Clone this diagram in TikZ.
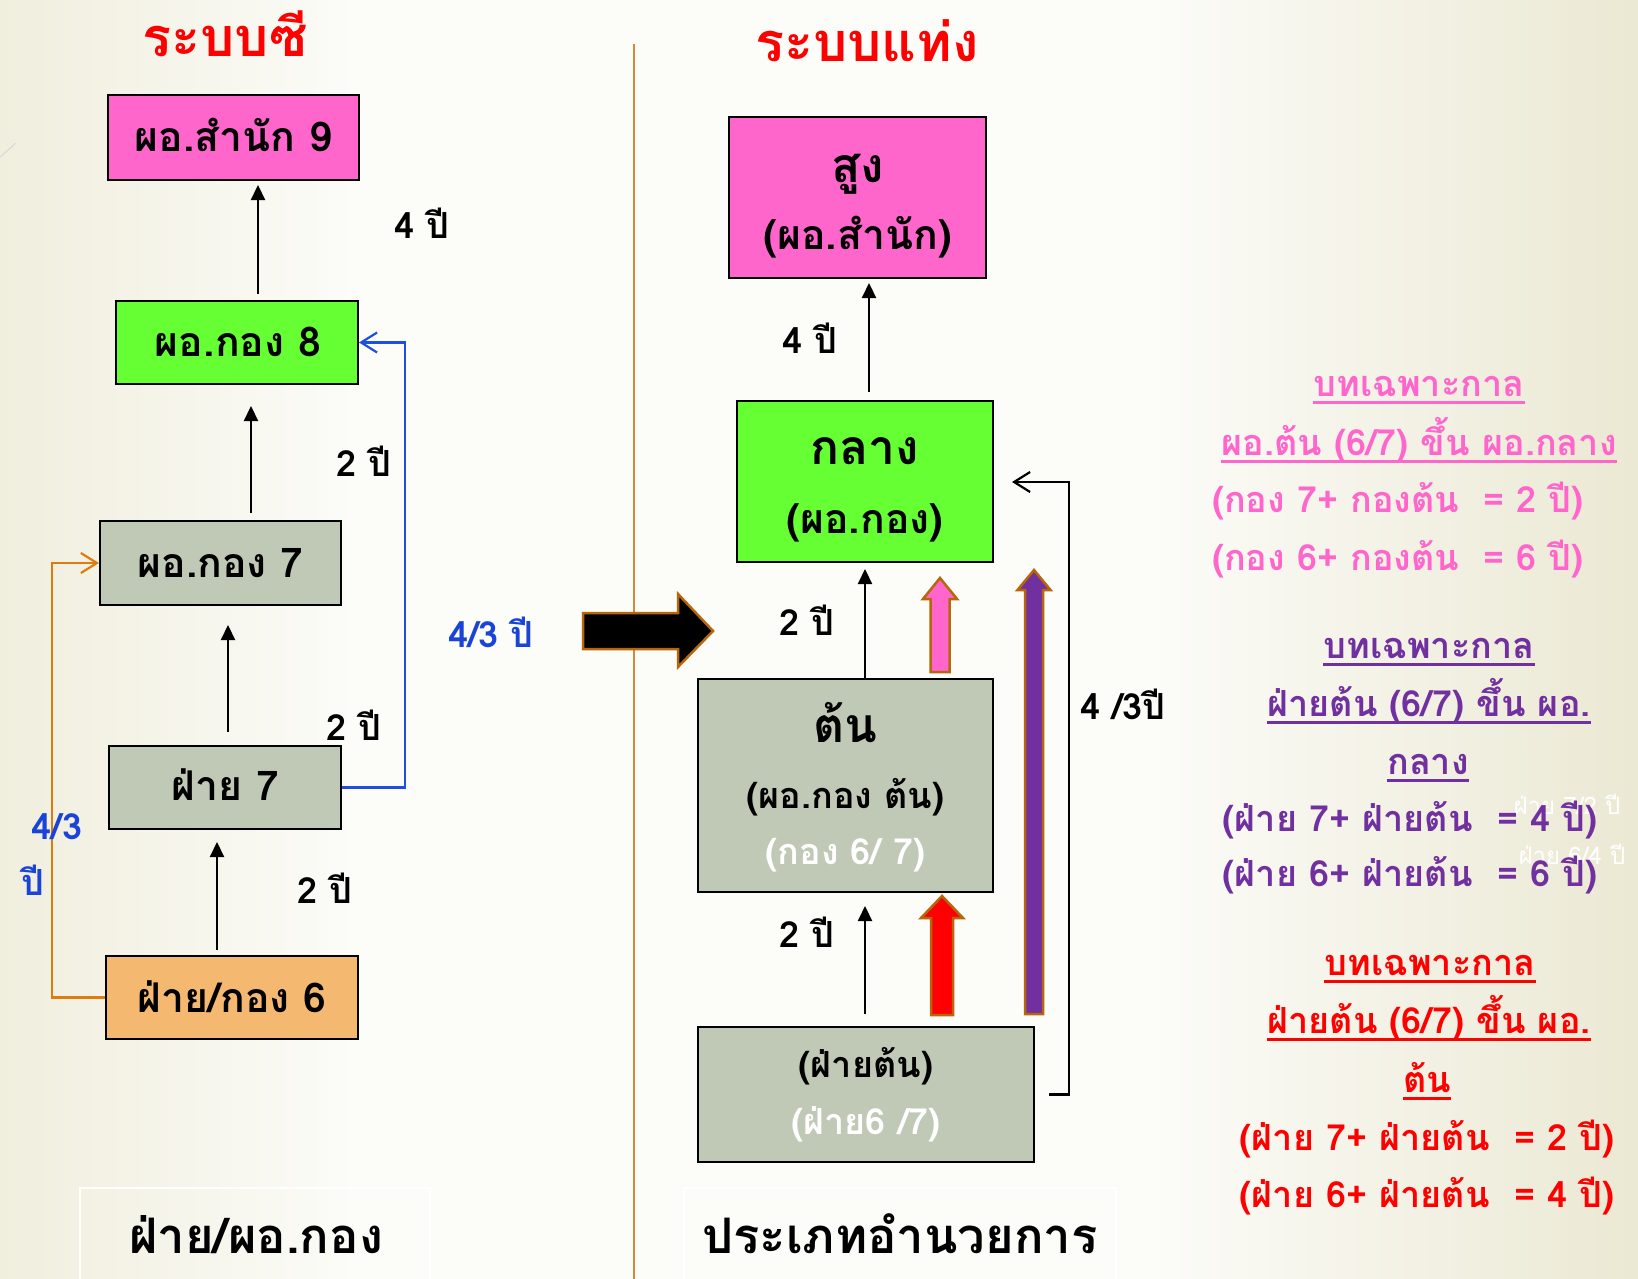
\documentclass[tikz,border=0pt]{standalone}
\usepackage{fontspec}
\setmainfont[Script=Thai]{Loma}
\usetikzlibrary{arrows.meta}
\definecolor{pinkbox}{HTML}{FF66CC}
\definecolor{greenbox}{HTML}{66FF33}
\definecolor{graybox}{HTML}{C0C9B6}
\definecolor{orangebox}{HTML}{F4B870}
\definecolor{titlered}{HTML}{FF0000}
\definecolor{purp}{HTML}{7030A0}
\definecolor{bluet}{HTML}{1A44D8}
\definecolor{bluel}{HTML}{1F4FE0}
\definecolor{orline}{HTML}{E07B10}
\definecolor{divider}{HTML}{D08A40}
\definecolor{brownedge}{HTML}{B8660B}
\definecolor{bgL}{HTML}{F0EEDD}
\definecolor{bgW}{HTML}{FCFCF9}
\definecolor{bgR}{HTML}{EBE8D3}
\pgfdeclarehorizontalshading{bgshade}{100bp}{color(0bp)=(bgL); color(25bp)=(bgL); color(36bp)=(bgW); color(60bp)=(bgW); color(75bp)=(bgR); color(100bp)=(bgR)}
\newcommand\fatup[7]{%
  \filldraw[draw=brownedge, line width=2.5pt, line join=miter, fill=#7]
    (#1-#4,#2) -- (#1-#4,#3+#6) -- (#1-#5,#3+#6) -- (#1,#3) -- (#1+#5,#3+#6)
    -- (#1+#4,#3+#6) -- (#1+#4,#2) -- cycle;}
\tikzset{
  box/.style={draw=black, line width=2pt, inner sep=0pt},
  bt/.style={font=\fontsize{41}{43}\selectfont\bfseries, anchor=base, inner sep=0pt},
  bbig/.style={font=\fontsize{48}{50}\selectfont\bfseries, anchor=base, inner sep=0pt},
  bsm/.style={font=\fontsize{36}{38}\selectfont\bfseries, anchor=base, inner sep=0pt},
  lab/.style={font=\fontsize{36}{38}\selectfont\bfseries, anchor=base, inner sep=0pt},
  ttl/.style={font=\fontsize{54}{56}\selectfont\bfseries, anchor=base, inner sep=0pt, text=titlered},
  rt/.style={font=\fontsize{36}{38}\selectfont\bfseries, anchor=base, inner sep=0pt},
  ghost/.style={font=\fontsize{24}{26}\selectfont, anchor=base, inner sep=0pt, text=white},
  foot/.style={draw=white, line width=2pt, inner sep=0pt},
  ftext/.style={font=\fontsize{49}{51}\selectfont\bfseries, anchor=base, inner sep=0pt},
  arr/.style={line width=2.2pt, -{Triangle[length=15pt,width=14pt]}},
  barb/.style={line width=2.2pt, -{Straight Barb[length=16pt,width=20pt,line width=2.2pt]}},
  ul/.style={line width=3pt},
}
\begin{document}
\begin{tikzpicture}[x=1pt,y=-1pt]
\useasboundingbox (0,0) rectangle (1638,1279);
\shade[shading=bgshade] (0,0) rectangle (1638,1279);
\draw[color=black!15, line width=1pt] (0,157) -- (16,143);

% divider
\draw[divider, line width=1.8pt] (634,44) -- (634,1290);

% titles
\node[ttl] (tl) at (225,57) {ระบบซี};
\node[ttl] (tr) at (867,62) {ระบบแท่ง};

% left boxes
\node[box, fill=pinkbox, minimum width=251pt, minimum height=85pt] (b9) at (233.5,137.5) {};
\node[box, fill=greenbox, minimum width=242pt, minimum height=83pt] (b8) at (237,342.5) {};
\node[box, fill=graybox, minimum width=241pt, minimum height=84pt] (b7) at (220.5,563) {};
\node[box, fill=graybox, minimum width=232pt, minimum height=83pt] (f7) at (225,787.5) {};
\node[box, fill=orangebox, minimum width=252pt, minimum height=83pt] (b6) at (232,997.5) {};
\node[bt] (t9) at (233.5,152) {ผอ.สำนัก 9};
\node[bt] (t8) at (238,356) {ผอ.กอง 8};
\node[bt] (t7) at (220.5,577) {ผอ.กอง 7};
\node[bt] (tf7) at (225,800) {ฝ่าย 7};
\node[bt] (t6) at (232,1012) {ฝ่าย/กอง 6};

% left arrows
\draw[arr, shorten <=6pt, shorten >=4pt] (258,0 |- b8.north) -- (258,0 |- b9.south);
\draw[arr, shorten <=7pt, shorten >=21pt] (251,0 |- b7.north) -- (251,0 |- b8.south);
\draw[arr, shorten <=13pt, shorten >=19pt] (228,0 |- f7.north) -- (228,0 |- b7.south);
\draw[arr, shorten <=5pt, shorten >=12pt] (217,0 |- b6.north) -- (217,0 |- f7.south);
\draw[orline, barb] (b6.west) -- (52,0 |- b6.west) |- (b7.west);
\draw[bluel, barb] (f7.east) -- (405,0 |- f7.east) |- (b8.east);

% left labels
\node[lab] (l1) at (422,238) {4 ปี};
\node[lab] (l2) at (364,476) {2 ปี};
\node[lab] (l3) at (354,740) {2 ปี};
\node[lab] (l4) at (325,903) {2 ปี};
\node[lab, text=bluet] (l5) at (491,647) {4/3 ปี};
\node[lab, text=bluet] (l6) at (57,839) {4/3};
\node[lab, text=bluet] (l7) at (33,895) {ปี};

% big arrow
\filldraw[draw=brownedge, fill=black, line width=2.5pt, line join=miter]
  (583,613) -- (678,613) -- (678,594) -- (713,631) -- (678,667) -- (678,649) -- (583,649) -- cycle;

% right boxes
\node[box, fill=pinkbox, minimum width=257pt, minimum height=161pt] (sung) at (857.5,197.5) {};
\node[box, fill=greenbox, minimum width=256pt, minimum height=161pt] (klang) at (865,481.5) {};
\node[box, fill=graybox, minimum width=295pt, minimum height=213pt] (ton) at (845.5,785.5) {};
\node[box, fill=graybox, minimum width=336pt, minimum height=135pt] (ft) at (866,1094.5) {};
\node[bbig] (s1) at (857.5,182) {สูง};
\node[bt] (s2) at (857.5,249) {(ผอ.สำนัก)};
\node[bbig] (k1) at (865,464) {กลาง};
\node[bt] (k2) at (865,533) {(ผอ.กอง)};
\node[bbig] (n1) at (845.5,742) {ต้น};
\node[bsm] (n2) at (845.5,808) {(ผอ.กอง ต้น)};
\node[bsm, text=white] (n3) at (845.5,864) {(กอง 6/ 7)};
\node[bsm] (f1) at (866,1077) {(ฝ่ายต้น)};
\node[bsm, text=white] (f2) at (866,1134) {(ฝ่าย6 /7)};

% right arrows
\draw[arr, shorten <=8pt, shorten >=4pt] (869,0 |- klang.north) -- (869,0 |- sung.south);
\draw[arr, shorten <=0pt, shorten >=6pt] (865,0 |- ton.north) -- (865,0 |- klang.south);
\draw[arr, shorten <=12pt, shorten >=13pt] (865,0 |- ft.north) -- (865,0 |- ton.south);
\coordinate (brs) at ([xshift=14pt]ft.east);
\coordinate (bre) at ([xshift=18pt]klang.east |- 0,482);
\draw[barb] (brs) -- ++(20,0) |- (bre);

% fat arrows
\fatup{940}{672}{578}{9.5}{17}{21}{pinkbox}
\fatup{942}{1015}{896}{11}{21}{22}{titlered}
\fatup{1034}{1014}{570}{9}{16.5}{20}{purp}

% right labels
\node[lab] (r1) at (810,353) {4 ปี};
\node[lab] (r2) at (807,635) {2 ปี};
\node[lab] (r3) at (807,947) {2 ปี};
\node[lab] (r4) at (1123,719) {4 /3ปี};

% notes
\node[ghost] (g1) at (1567,814) {ฝ่าย 7/2 ปี};
\node[ghost] (g2) at (1572,864) {ฝ่าย 6/4 ปี};

\begin{scope}[every node/.style={rt}]
\node[text=pinkbox] (p1) at (1419,396) {บทเฉพาะกาล};
\node[text=pinkbox] (p2) at (1419,455) {ผอ.ต้น (6/7) ขึ้น ผอ.กลาง};
\node[text=pinkbox] (p3) at (1398,512) {(กอง 7+ กองต้น\ \ = 2 ปี)};
\node[text=pinkbox] (p4) at (1398,570) {(กอง 6+ กองต้น\ \ = 6 ปี)};
\node[text=purp] (u1) at (1429,658) {บทเฉพาะกาล};
\node[text=purp] (u2) at (1429,716) {ฝ่ายต้น (6/7) ขึ้น ผอ.};
\node[text=purp] (u3) at (1428,774) {กลาง};
\node[text=purp] (u4) at (1410,831) {(ฝ่าย 7+ ฝ่ายต้น\ \ = 4 ปี)};
\node[text=purp] (u5) at (1410,886) {(ฝ่าย 6+ ฝ่ายต้น\ \ = 6 ปี)};
\node[text=titlered] (e1) at (1430,975) {บทเฉพาะกาล};
\node[text=titlered] (e2) at (1429,1033) {ฝ่ายต้น (6/7) ขึ้น ผอ.};
\node[text=titlered] (e3) at (1427,1092) {ต้น};
\node[text=titlered] (e4) at (1427,1150) {(ฝ่าย 7+ ฝ่ายต้น\ \ = 2 ปี)};
\node[text=titlered] (e5) at (1427,1207) {(ฝ่าย 6+ ฝ่ายต้น\ \ = 4 ปี)};
\end{scope}
\foreach \n/\c in {p1/pinkbox,p2/pinkbox,u1/purp,u2/purp,u3/purp,e1/titlered,e2/titlered,e3/titlered}
  \draw[ul, \c] ([yshift=-6pt]\n.base west) -- ([yshift=-6pt]\n.base east);

% footers
\node[foot, minimum width=350pt, minimum height=110pt] (fl) at (255,1243) {};
\node[foot, minimum width=432pt, minimum height=110pt] (fr) at (900,1243) {};
\node[ftext] (flt) at (256,1253) {ฝ่าย/ผอ.กอง};
\node[ftext] (frt) at (900,1253) {ประเภทอำนวยการ};
\end{tikzpicture}
\end{document}
